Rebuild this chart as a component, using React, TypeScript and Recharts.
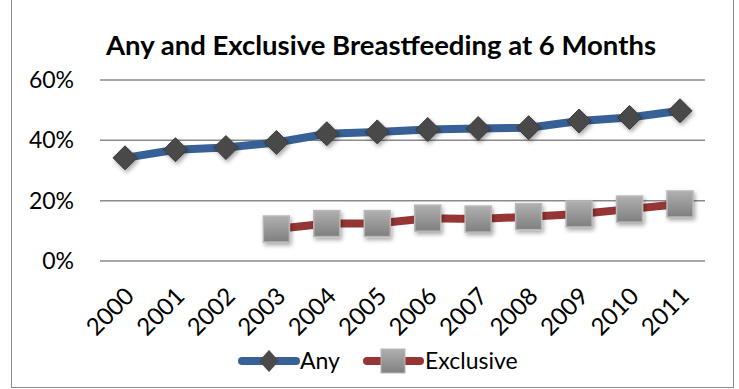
import React from "react";
import { LineChart, Line, XAxis, YAxis, CartesianGrid, Legend } from "recharts";

const years = ["2000", "2001", "2002", "2003", "2004", "2005", "2006", "2007", "2008", "2009", "2010", "2011"];
const anyValues = [34.2, 36.9, 37.6, 39.3, 42.2, 42.8, 43.6, 43.9, 44.2, 46.4, 47.6, 49.8];
const exclusiveValues = [null, null, null, 10.6, 12.4, 12.4, 14.2, 13.9, 14.7, 15.6, 17.2, 18.9];
const yTicks = [0, 20, 40, 60];

const data = years.map((y, i) => ({ year: y, any: anyValues[i], exclusive: exclusiveValues[i] }));

const FONT = "Lato, 'Open Sans', sans-serif";
const BLUE = "#376196";
const RED = "#963634";

function Diamond(props: any) {
  const { cx, cy } = props;
  if (cx == null || cy == null) return null;
  const r = 12;
  return (
    <path
      d={`M${cx},${cy - r} L${cx + r},${cy} L${cx},${cy + r} L${cx - r},${cy} Z`}
      fill="#4a4a4a"
      stroke="#3a3a3a"
      strokeWidth={1}
      filter="url(#shadow)"
    />
  );
}

function Square(props: any) {
  const { cx, cy, value } = props;
  if (cx == null || cy == null || value == null) return null;
  const s = 13;
  return (
    <rect
      x={cx - s}
      y={cy - s}
      width={2 * s}
      height={2 * s}
      fill="url(#sqgrad)"
      stroke="#b8b8b8"
      strokeWidth={1.5}
      filter="url(#shadow)"
    />
  );
}

function XTick(props: any) {
  const { x, y, payload } = props;
  const ax = x + 4;
  const ay = y + 22;
  return (
    <text
      x={ax}
      y={ay}
      textAnchor="end"
      fontSize={24}
      fontFamily={FONT}
      fill="#000"
      transform={`rotate(-45, ${ax}, ${ay})`}
      dominantBaseline="central"
    >
      {payload.value}
    </text>
  );
}

function LegendContent() {
  return (
    <svg width={739} height={30}>
      <line x1={242} y1={15} x2={296} y2={15} stroke={BLUE} strokeWidth={8} strokeLinecap="round" />
      <path d="M269,4 L279,15 L269,26 L259,15 Z" fill="#4a4a4a" />
      <text x={300} y={23} fontSize={23} fontFamily={FONT} fill="#000">Any</text>
      <line x1={367} y1={15} x2={420} y2={15} stroke={RED} strokeWidth={8} strokeLinecap="round" />
      <rect x={381} y={3} width={24} height={24} fill="url(#sqgrad2)" stroke="#b8b8b8" strokeWidth={1} />
      <text x={425} y={23} fontSize={23} fontFamily={FONT} fill="#000">Exclusive</text>
      <defs>
        <linearGradient id="sqgrad2" x1="0" y1="0" x2="0" y2="1">
          <stop offset="0%" stopColor="#b0b0b0" />
          <stop offset="100%" stopColor="#808080" />
        </linearGradient>
      </defs>
    </svg>
  );
}

export default function App() {
  return (
    <div style={{ position: "absolute", left: 0, top: 0, width: 739, height: 389, background: "#fff" }}>
      <div
        style={{
          position: "absolute",
          left: 11,
          top: -2,
          width: 723,
          height: 390,
          border: "1.5px solid #8c8c8c",
          boxSizing: "border-box",
        }}
      />
      <div
        style={{
          position: "absolute",
          left: 0,
          width: 762,
          top: 28,
          textAlign: "center",
          fontFamily: FONT,
          fontWeight: 700,
          fontSize: 27.5,
          color: "#000",
        }}
      >
        Any and Exclusive Breastfeeding at 6 Months
      </div>
      <LineChart width={739} height={389} data={data} margin={{ top: 80, right: 34, left: 0, bottom: 0 }}>
        <defs>
          <linearGradient id="sqgrad" x1="0" y1="0" x2="0" y2="1">
            <stop offset="0%" stopColor="#b0b0b0" />
            <stop offset="100%" stopColor="#7f7f7f" />
          </linearGradient>
          <filter id="shadow" x="-50%" y="-50%" width="200%" height="200%">
            <feDropShadow dx="1.5" dy="2.5" stdDeviation="2" floodColor="#000" floodOpacity="0.35" />
          </filter>
        </defs>
        <CartesianGrid vertical={false} stroke="#8a8a8a" strokeWidth={1.5} />
        <XAxis
          dataKey="year"
          axisLine={false}
          tickLine={false}
          interval={0}
          height={94}
          padding={{ left: 25, right: 25 }}
          tick={<XTick />}
        />
        <YAxis
          domain={[0, 60]}
          ticks={yTicks}
          width={100}
          axisLine={false}
          tickLine={false}
          tickFormatter={(v: number) => `${v}%`}
          tick={{ fontSize: 23, fontFamily: FONT, fill: "#000" }}
          tickMargin={20}
        />
        <Legend
          verticalAlign="bottom"
          content={<LegendContent />}
          wrapperStyle={{ left: 0, width: 739, bottom: undefined, top: 346 }}
        />
        <Line
          dataKey="any"
          stroke={BLUE}
          strokeWidth={8}
          dot={<Diamond />}
          activeDot={false}
          isAnimationActive={false}
        />
        <Line
          dataKey="exclusive"
          stroke={RED}
          strokeWidth={8}
          dot={<Square />}
          activeDot={false}
          isAnimationActive={false}
        />
      </LineChart>
    </div>
  );
}
